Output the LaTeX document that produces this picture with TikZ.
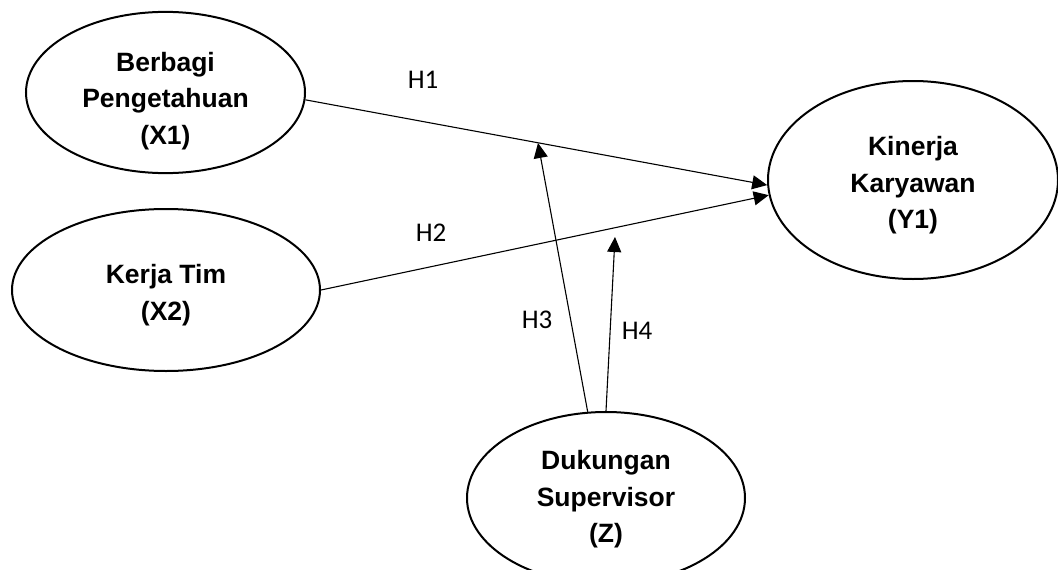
\documentclass[tikz,border=0pt]{standalone}
\usepackage{fontspec}
\setmainfont{Liberation Sans}
\newfontfamily\labelfont{Carlito}
\usetikzlibrary{shapes.geometric,arrows.meta}
% extra height on a first line, lowering the text block by #1
\newcommand\topgap[1]{\rule{0pt}{\dimexpr19.5pt+#1*2\relax}}
\begin{document}
\begin{tikzpicture}[x=1pt,y=-1pt,
  construct/.style={ellipse,draw,line width=2pt,inner sep=0pt,align=center,
    font=\fontsize{26.5}{36.5}\selectfont\bfseries},
  path/.style={line width=1.1pt,-{Triangle[length=15pt,width=14pt]}},
  hlabel/.style={font=\fontsize{27}{30}\selectfont\labelfont,inner sep=0pt}]
  \useasboundingbox (0,0) rectangle (1058,570);
  \node[construct,minimum width=279pt,minimum height=161pt] (x1) at (165.5,92.5)
    {\topgap{8pt}Berbagi\\Pengetahuan\\(X1)};
  \node[construct,minimum width=308pt,minimum height=162pt] (x2) at (166,290)
    {\topgap{5pt}Kerja Tim\\(X2)};
  \node[construct,minimum width=290pt,minimum height=198pt] (y1) at (913,180)
    {\topgap{5pt}Kinerja\\Karyawan\\(Y1)};
  \node[construct,minimum width=278pt,minimum height=172pt] (z) at (606,498)
    {\topgap{1pt}Dukungan\\Supervisor\\(Z)};
  % moderation targets on the direct paths
  \coordinate (m3) at (538,143);
  \coordinate (m4) at (615,237);
  \draw[path] (x1.-3) -- (y1.182.7);
  \draw[path] (x2.east) -- (y1.186.6);
  \draw[path] (z.102.6) -- (m3);
  \draw[path] (z.north) -- (m4);
  \node[hlabel] (h1) at (423,79.5) {H1};
  \node[hlabel] (h2) at (431,233) {H2};
  \node[hlabel] (h3) at (537,320) {H3};
  \node[hlabel] (h4) at (637,330.5) {H4};
\end{tikzpicture}
\end{document}
